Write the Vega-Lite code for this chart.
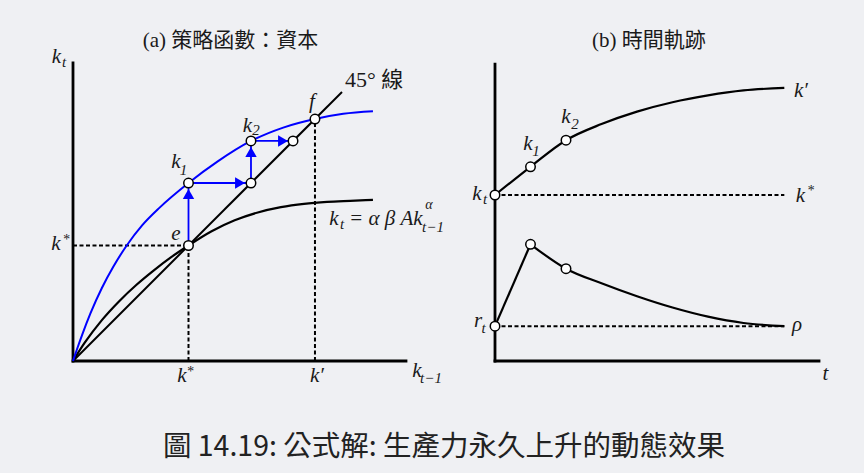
{
  "$schema": "https://vega.github.io/schema/vega-lite/v6.json",
  "background": "#eff0f3",
  "padding": {"left": 0, "top": 0, "right": 0, "bottom": 12},
  "bounds": "flush",
  "spacing": 0,
  "config": {"view": {"stroke": null}},
  "title": {
    "text": "圖 14.19: 公式解: 生產力永久上升的動態效果",
    "orient": "bottom",
    "anchor": "middle",
    "font": "Noto Sans CJK TC",
    "fontSize": 28.5,
    "fontWeight": "normal",
    "color": "#222222",
    "offset": 33,
    "dx": 12
  },
  "datasets": {
    "segA": [
      {"kind": "axis", "x": 0, "y": 0, "x2": 0, "y2": 2.58},
      {"kind": "axis", "x": 0, "y": 0, "x2": 2.883, "y2": 0},
      {"kind": "diag", "x": 0, "y": 0, "x2": 2.329, "y2": 2.329},
      {"kind": "dash", "x": 0, "y": 1, "x2": 1, "y2": 1},
      {"kind": "dash", "x": 1, "y": 0, "x2": 1, "y2": 1},
      {"kind": "dash", "x": 2.095, "y": 0, "x2": 2.095, "y2": 2.095},
      {"kind": "step", "x": 1, "y": 1, "x2": 1, "y2": 1.541},
      {"kind": "step", "x": 1, "y": 1.541, "x2": 1.541, "y2": 1.541},
      {"kind": "step", "x": 1.541, "y": 1.541, "x2": 1.541, "y2": 1.905},
      {"kind": "step", "x": 1.541, "y": 1.905, "x2": 1.905, "y2": 1.905}
    ],
    "curvesA": [
      {"curve": "policy", "x": 0, "y": 0},
      {"curve": "policy", "x": 0.1, "y": 0.156},
      {"curve": "policy", "x": 0.25, "y": 0.354},
      {"curve": "policy", "x": 0.4, "y": 0.518},
      {"curve": "policy", "x": 0.55, "y": 0.66},
      {"curve": "policy", "x": 0.7, "y": 0.785},
      {"curve": "policy", "x": 0.85, "y": 0.899},
      {"curve": "policy", "x": 1.0, "y": 1.0},
      {"curve": "policy", "x": 1.2, "y": 1.123},
      {"curve": "policy", "x": 1.4, "y": 1.218},
      {"curve": "policy", "x": 1.6, "y": 1.286},
      {"curve": "policy", "x": 1.8, "y": 1.332},
      {"curve": "policy", "x": 2.0, "y": 1.361},
      {"curve": "policy", "x": 2.2, "y": 1.378},
      {"curve": "policy", "x": 2.4, "y": 1.387},
      {"curve": "policy", "x": 2.597, "y": 1.395},
      {"curve": "new", "x": 0, "y": 0},
      {"curve": "new", "x": 0.03, "y": 0.089},
      {"curve": "new", "x": 0.08, "y": 0.229},
      {"curve": "new", "x": 0.15, "y": 0.41},
      {"curve": "new", "x": 0.25, "y": 0.632},
      {"curve": "new", "x": 0.35, "y": 0.818},
      {"curve": "new", "x": 0.465, "y": 1.0},
      {"curve": "new", "x": 0.6, "y": 1.176},
      {"curve": "new", "x": 0.75, "y": 1.328},
      {"curve": "new", "x": 1.0, "y": 1.541},
      {"curve": "new", "x": 1.25, "y": 1.726},
      {"curve": "new", "x": 1.541, "y": 1.905},
      {"curve": "new", "x": 1.82, "y": 2.021},
      {"curve": "new", "x": 2.095, "y": 2.095},
      {"curve": "new", "x": 2.34, "y": 2.14},
      {"curve": "new", "x": 2.597, "y": 2.162}
    ],
    "ptsA": [
      {"x": 1, "y": 1},
      {"x": 1, "y": 1.541},
      {"x": 1.541, "y": 1.541},
      {"x": 1.541, "y": 1.905},
      {"x": 1.905, "y": 1.905},
      {"x": 2.095, "y": 2.095}
    ],
    "headsA": [
      {"dir": "up", "x": 1, "y": 1.4459},
      {"dir": "right", "x": 1.4459, "y": 1.541},
      {"dir": "up", "x": 1.541, "y": 1.8095},
      {"dir": "right", "x": 1.8182, "y": 1.905}
    ],
    "labelsA": [
      {"role": "title", "x": 1.3636, "y": 2.7186, "text": "(a) 策略函數：資本"},
      {"role": "upleft", "x": 2.355, "y": 2.3723, "text": "45° 線"},
      {"role": "main", "x": -0.1429, "y": 2.5801, "text": "k"},
      {"role": "sub", "x": -0.0779, "y": 2.5455, "text": "t"},
      {"role": "main", "x": -0.1472, "y": 0.961, "text": "k"},
      {"role": "sup", "x": -0.0606, "y": 1.013, "text": "*"},
      {"role": "main", "x": 0.8918, "y": 1.0476, "text": "e"},
      {"role": "main", "x": 0.8918, "y": 1.671, "text": "k"},
      {"role": "sub", "x": 0.9567, "y": 1.6104, "text": "1"},
      {"role": "main", "x": 1.5108, "y": 1.9827, "text": "k"},
      {"role": "sub", "x": 1.5844, "y": 1.9567, "text": "2"},
      {"role": "main", "x": 2.0693, "y": 2.1905, "text": "f"},
      {"role": "main", "x": 0.9437, "y": -0.1818, "text": "k"},
      {"role": "sup", "x": 1.013, "y": -0.1299, "text": "*"},
      {"role": "main", "x": 2.1126, "y": -0.1818, "text": "k′"},
      {"role": "main", "x": 2.9784, "y": -0.1385, "text": "k"},
      {"role": "sub", "x": 3.0996, "y": -0.1905, "text": "t−1"},
      {"role": "main", "x": 2.2597, "y": 1.1775, "text": "k"},
      {"role": "sub", "x": 2.329, "y": 1.1429, "text": "t"},
      {"role": "mainleft", "x": 2.3896, "y": 1.1775, "text": "= α β Ak"},
      {"role": "sup", "x": 3.0823, "y": 1.316, "text": "α"},
      {"role": "sub", "x": 3.1169, "y": 1.1169, "text": "t−1"}
    ],
    "segB": [
      {"kind": "axis", "x": 0, "y": 0, "x2": 0, "y2": 1.789},
      {"kind": "axis", "x": 0, "y": 0, "x2": 9.127, "y2": 0},
      {"kind": "dash", "x": 0, "y": 1, "x2": 8.15, "y2": 1},
      {"kind": "dash", "x": 0, "y": 0.21, "x2": 8.15, "y2": 0.21}
    ],
    "curvesB": [
      {"series": "k", "t": 0, "v": 1.0},
      {"series": "k", "t": 1, "v": 1.17},
      {"series": "k", "t": 2, "v": 1.33},
      {"series": "k", "t": 3, "v": 1.4275},
      {"series": "k", "t": 4, "v": 1.5025},
      {"series": "k", "t": 5, "v": 1.559},
      {"series": "k", "t": 6, "v": 1.6},
      {"series": "k", "t": 7, "v": 1.63},
      {"series": "k", "t": 8.15, "v": 1.645},
      {"series": "rjump", "t": 0, "v": 0.21},
      {"series": "rjump", "t": 1, "v": 0.703},
      {"series": "rdecay", "t": 1, "v": 0.703},
      {"series": "rdecay", "t": 2, "v": 0.556},
      {"series": "rdecay", "t": 3, "v": 0.468},
      {"series": "rdecay", "t": 4, "v": 0.39},
      {"series": "rdecay", "t": 5, "v": 0.322},
      {"series": "rdecay", "t": 6, "v": 0.267},
      {"series": "rdecay", "t": 7, "v": 0.229},
      {"series": "rdecay", "t": 8.15, "v": 0.21}
    ],
    "ptsB": [
      {"t": 0, "v": 1.0},
      {"t": 1, "v": 1.17},
      {"t": 2, "v": 1.33},
      {"t": 0, "v": 0.21},
      {"t": 1, "v": 0.703},
      {"t": 2, "v": 0.556}
    ],
    "labelsB": [
      {"role": "title", "t": 4.338, "v": 1.8916, "text": "(b) 時間軌跡"},
      {"role": "main", "t": -0.507, "v": 0.9699, "text": "k"},
      {"role": "sub", "t": -0.2817, "v": 0.9458, "text": "t"},
      {"role": "main", "t": 0.9296, "v": 1.2711, "text": "k"},
      {"role": "sub", "t": 1.1549, "v": 1.2349, "text": "1"},
      {"role": "main", "t": 2.0, "v": 1.4337, "text": "k"},
      {"role": "sub", "t": 2.2535, "v": 1.3976, "text": "2"},
      {"role": "main", "t": -0.4789, "v": 0.2048, "text": "r"},
      {"role": "sub", "t": -0.3239, "v": 0.1687, "text": "t"},
      {"role": "main", "t": 9.3099, "v": -0.1145, "text": "t"},
      {"role": "mainleft", "t": 8.4225, "v": 1.5904, "text": "k′"},
      {"role": "main", "t": 8.6056, "v": 0.9578, "text": "k"},
      {"role": "sup", "t": 8.8873, "v": 1.0, "text": "*"},
      {"role": "mainleft", "t": 8.3662, "v": 0.1807, "text": "ρ"}
    ]
  },
  "hconcat": [
    {
      "width": 432,
      "height": 400,
      "encoding": {
        "x": {"field": "x", "type": "quantitative", "scale": {"domain": [-0.63203, 3.10823], "nice": false, "zero": false}, "axis": null},
        "y": {"field": "y", "type": "quantitative", "scale": {"domain": [-0.33766, 3.12554], "nice": false, "zero": false}, "axis": null}
      },
      "layer": [
        {
          "data": {"name": "segA"},
          "transform": [{"filter": "datum.kind === 'dash'"}],
          "mark": {"type": "rule", "color": "black", "strokeWidth": 2, "strokeDash": [4, 2.5]},
          "encoding": {"x2": {"field": "x2"}, "y2": {"field": "y2"}}
        },
        {
          "data": {"name": "segA"},
          "transform": [{"filter": "datum.kind === 'axis'"}],
          "mark": {"type": "rule", "color": "black", "strokeWidth": 2.8, "strokeCap": "square"},
          "encoding": {"x2": {"field": "x2"}, "y2": {"field": "y2"}}
        },
        {
          "data": {"name": "segA"},
          "transform": [{"filter": "datum.kind === 'diag'"}],
          "mark": {"type": "rule", "color": "black", "strokeWidth": 2},
          "encoding": {"x2": {"field": "x2"}, "y2": {"field": "y2"}}
        },
        {
          "data": {"name": "curvesA"},
          "transform": [{"filter": "datum.curve === 'policy'"}],
          "mark": {"type": "line", "color": "black", "strokeWidth": 2.2, "interpolate": "monotone"}
        },
        {
          "data": {"name": "curvesA"},
          "transform": [{"filter": "datum.curve === 'new'"}],
          "mark": {"type": "line", "color": "#0000ff", "strokeWidth": 2, "interpolate": "monotone"}
        },
        {
          "data": {"name": "segA"},
          "transform": [{"filter": "datum.kind === 'step'"}],
          "mark": {"type": "rule", "color": "#0000ff", "strokeWidth": 1.8},
          "encoding": {"x2": {"field": "x2"}, "y2": {"field": "y2"}}
        },
        {
          "data": {"name": "headsA"},
          "transform": [{"filter": "datum.dir === 'up'"}],
          "mark": {"type": "point", "shape": "triangle-up", "filled": true, "color": "#0000ff", "size": 130, "opacity": 1}
        },
        {
          "data": {"name": "headsA"},
          "transform": [{"filter": "datum.dir === 'right'"}],
          "mark": {"type": "point", "shape": "triangle-right", "filled": true, "color": "#0000ff", "size": 130, "opacity": 1}
        },
        {
          "data": {"name": "ptsA"},
          "mark": {"type": "point", "shape": "circle", "filled": true, "fill": "white", "stroke": "black", "strokeWidth": 1.5, "size": 90, "opacity": 1}
        },
        {
          "data": {"name": "labelsA"},
          "transform": [{"filter": "datum.role === 'title'"}],
          "mark": {"type": "text", "font": "Liberation Serif, Noto Sans CJK TC", "fontSize": 21, "align": "center", "baseline": "alphabetic", "color": "#1a1a1a"},
          "encoding": {"text": {"field": "text"}}
        },
        {
          "data": {"name": "labelsA"},
          "transform": [{"filter": "datum.role === 'upleft'"}],
          "mark": {"type": "text", "font": "Liberation Serif, Noto Sans CJK TC", "fontSize": 22, "align": "left", "baseline": "alphabetic", "color": "#1a1a1a"},
          "encoding": {"text": {"field": "text"}}
        },
        {
          "data": {"name": "labelsA"},
          "transform": [{"filter": "datum.role === 'main'"}],
          "mark": {"type": "text", "font": "Liberation Serif", "fontStyle": "italic", "fontSize": 21, "align": "center", "baseline": "alphabetic", "color": "#1a1a1a"},
          "encoding": {"text": {"field": "text"}}
        },
        {
          "data": {"name": "labelsA"},
          "transform": [{"filter": "datum.role === 'mainleft'"}],
          "mark": {"type": "text", "font": "Liberation Serif", "fontStyle": "italic", "fontSize": 21, "align": "left", "baseline": "alphabetic", "color": "#1a1a1a"},
          "encoding": {"text": {"field": "text"}}
        },
        {
          "data": {"name": "labelsA"},
          "transform": [{"filter": "datum.role === 'sub'"}],
          "mark": {"type": "text", "font": "Liberation Serif", "fontStyle": "italic", "fontSize": 15, "align": "center", "baseline": "alphabetic", "color": "#1a1a1a"},
          "encoding": {"text": {"field": "text"}}
        },
        {
          "data": {"name": "labelsA"},
          "transform": [{"filter": "datum.role === 'sup'"}],
          "mark": {"type": "text", "font": "Liberation Serif", "fontStyle": "italic", "fontSize": 14, "align": "center", "baseline": "alphabetic", "color": "#1a1a1a"},
          "encoding": {"text": {"field": "text"}}
        }
      ]
    },
    {
      "width": 432,
      "height": 400,
      "encoding": {
        "x": {"field": "t", "type": "quantitative", "scale": {"domain": [-1.77465, 10.39437], "nice": false, "zero": false}, "axis": null},
        "y": {"field": "v", "type": "quantitative", "scale": {"domain": [-0.23494, 2.1747], "nice": false, "zero": false}, "axis": null}
      },
      "layer": [
        {
          "data": {"name": "segB"},
          "transform": [{"filter": "datum.kind === 'dash'"}],
          "mark": {"type": "rule", "color": "black", "strokeWidth": 2, "strokeDash": [4, 2.5]},
          "encoding": {"x": {"field": "x", "type": "quantitative"}, "y": {"field": "y", "type": "quantitative"}, "x2": {"field": "x2"}, "y2": {"field": "y2"}}
        },
        {
          "data": {"name": "segB"},
          "transform": [{"filter": "datum.kind === 'axis'"}],
          "mark": {"type": "rule", "color": "black", "strokeWidth": 2.8, "strokeCap": "square"},
          "encoding": {"x": {"field": "x", "type": "quantitative"}, "y": {"field": "y", "type": "quantitative"}, "x2": {"field": "x2"}, "y2": {"field": "y2"}}
        },
        {
          "data": {"name": "curvesB"},
          "transform": [{"filter": "datum.series === 'k'"}],
          "mark": {"type": "line", "color": "black", "strokeWidth": 2.2, "interpolate": "monotone"}
        },
        {
          "data": {"name": "curvesB"},
          "transform": [{"filter": "datum.series === 'rjump'"}],
          "mark": {"type": "line", "color": "black", "strokeWidth": 2.2}
        },
        {
          "data": {"name": "curvesB"},
          "transform": [{"filter": "datum.series === 'rdecay'"}],
          "mark": {"type": "line", "color": "black", "strokeWidth": 2.2, "interpolate": "monotone"}
        },
        {
          "data": {"name": "ptsB"},
          "mark": {"type": "point", "shape": "circle", "filled": true, "fill": "white", "stroke": "black", "strokeWidth": 1.5, "size": 90, "opacity": 1}
        },
        {
          "data": {"name": "labelsB"},
          "transform": [{"filter": "datum.role === 'title'"}],
          "mark": {"type": "text", "font": "Liberation Serif, Noto Sans CJK TC", "fontSize": 21, "align": "center", "baseline": "alphabetic", "color": "#1a1a1a"},
          "encoding": {"text": {"field": "text"}}
        },
        {
          "data": {"name": "labelsB"},
          "transform": [{"filter": "datum.role === 'main'"}],
          "mark": {"type": "text", "font": "Liberation Serif", "fontStyle": "italic", "fontSize": 21, "align": "center", "baseline": "alphabetic", "color": "#1a1a1a"},
          "encoding": {"text": {"field": "text"}}
        },
        {
          "data": {"name": "labelsB"},
          "transform": [{"filter": "datum.role === 'mainleft'"}],
          "mark": {"type": "text", "font": "Liberation Serif", "fontStyle": "italic", "fontSize": 21, "align": "left", "baseline": "alphabetic", "color": "#1a1a1a"},
          "encoding": {"text": {"field": "text"}}
        },
        {
          "data": {"name": "labelsB"},
          "transform": [{"filter": "datum.role === 'sub'"}],
          "mark": {"type": "text", "font": "Liberation Serif", "fontStyle": "italic", "fontSize": 15, "align": "center", "baseline": "alphabetic", "color": "#1a1a1a"},
          "encoding": {"text": {"field": "text"}}
        },
        {
          "data": {"name": "labelsB"},
          "transform": [{"filter": "datum.role === 'sup'"}],
          "mark": {"type": "text", "font": "Liberation Serif", "fontStyle": "italic", "fontSize": 14, "align": "center", "baseline": "alphabetic", "color": "#1a1a1a"},
          "encoding": {"text": {"field": "text"}}
        }
      ]
    }
  ]
}
